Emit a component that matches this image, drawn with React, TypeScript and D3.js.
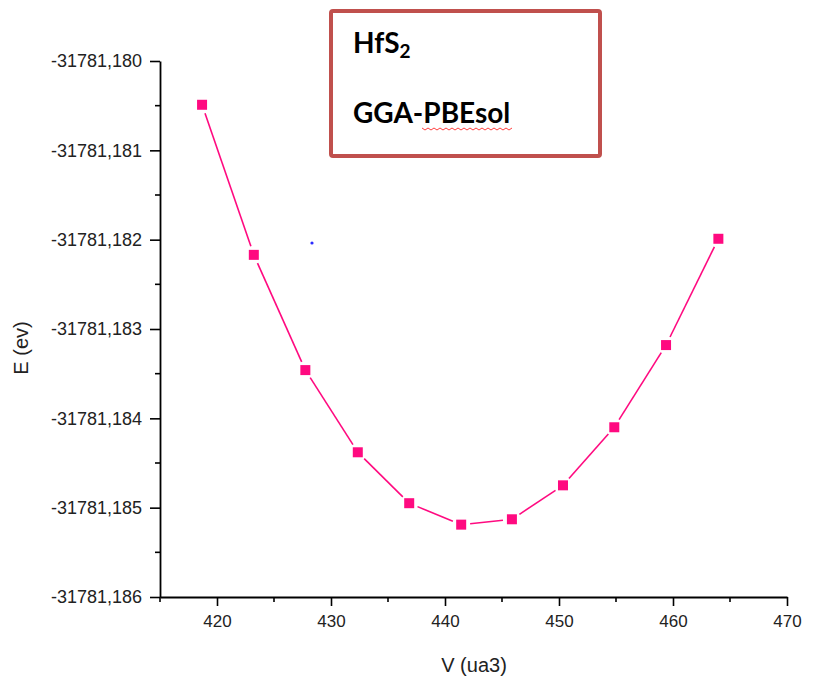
import React, { useEffect, useRef } from 'react';
import * as d3 from 'd3';

// volume (ua3) and total energy (eV)
const volumes = [418.69, 423.23, 427.75, 432.35, 436.86, 441.42, 445.87, 450.35, 454.85, 459.39, 463.98];
const energies = [
  -31781.18049, -31781.18217, -31781.18346, -31781.18438, -31781.18495, -31781.18519,
  -31781.18513, -31781.18475, -31781.18410, -31781.18318, -31781.18199,
];
const xTicks = [420, 430, 440, 450, 460, 470];
const xMinorTicks = [415, 425, 435, 445, 455, 465];
const yTicks = [-31781.180, -31781.181, -31781.182, -31781.183, -31781.184, -31781.185, -31781.186];
const yMinorTicks = [-31781.1805, -31781.1815, -31781.1825, -31781.1835, -31781.1845, -31781.1855];
const legendLines = ['HfS', 'GGA-PBEsol'];

const W = 821;
const H = 680;

const App = () => {
  const svgRef = useRef<SVGSVGElement | null>(null);

  useEffect(() => {
    const svg = d3.select(svgRef.current);
    svg.selectAll('*').remove();

    const x = d3.scaleLinear().domain([415, 470]).range([160, 787]);
    const y = d3.scaleLinear().domain([-31781.186, -31781.180]).range([597, 61]);
    const pink = '#ff0a80';
    const font = '"Liberation Sans", Arial, sans-serif';

    svg.append('rect').attr('width', W).attr('height', H).attr('fill', '#fff');

    // x axis
    const gx = svg.append('g').attr('transform', `translate(0,${y(-31781.186)})`);
    gx.call(
      d3.axisBottom(x).tickValues(xTicks).tickSize(9).tickSizeOuter(0).tickPadding(9)
        .tickFormat((d) => String(d))
    );
    gx.selectAll('.tick line').attr('stroke-width', 1.6);
    gx.selectAll('.tick text').attr('font-size', 17).attr('font-family', font).attr('fill', '#222');
    gx.select('.domain').attr('stroke-width', 1.8);
    gx.selectAll('.minor').data(xMinorTicks).join('line')
      .attr('x1', (d) => x(d)).attr('x2', (d) => x(d))
      .attr('y1', 0).attr('y2', 5).attr('stroke', '#000').attr('stroke-width', 1.6);

    // y axis
    const gy = svg.append('g').attr('transform', `translate(${x(415)},0)`);
    gy.call(
      d3.axisLeft(y).tickValues(yTicks).tickSize(10).tickSizeOuter(0).tickPadding(8)
        .tickFormat((d) => (d as number).toFixed(3).replace('.', ','))
    );
    gy.selectAll('.tick line').attr('stroke-width', 1.6);
    gy.selectAll('.tick text').attr('font-size', 18).attr('font-family', font).attr('fill', '#222');
    gy.select('.domain').attr('stroke-width', 1.8);
    gy.selectAll('.minor').data(yMinorTicks).join('line')
      .attr('y1', (d) => y(d)).attr('y2', (d) => y(d))
      .attr('x1', 0).attr('x2', -5).attr('stroke', '#000').attr('stroke-width', 1.6);

    // axis titles
    svg.append('text').attr('x', 474).attr('y', 672).attr('text-anchor', 'middle')
      .attr('font-size', 20).attr('font-family', font).attr('fill', '#222').text('V (ua3)');
    svg.append('text').attr('transform', 'translate(28,348) rotate(-90)').attr('text-anchor', 'middle')
      .attr('font-size', 20).attr('font-family', font).attr('fill', '#222').text('E (ev)');

    // connecting segments with small gaps near markers
    const pts = volumes.map((v, i) => [x(v), y(energies[i])] as [number, number]);
    const gap = 9;
    svg.append('g').selectAll('line').data(d3.pairs(pts)).join('line')
      .each(function ([a, b]) {
        const dx = b[0] - a[0];
        const dy = b[1] - a[1];
        const len = Math.hypot(dx, dy);
        const ux = dx / len;
        const uy = dy / len;
        d3.select(this)
          .attr('x1', a[0] + ux * gap).attr('y1', a[1] + uy * gap)
          .attr('x2', b[0] - ux * gap).attr('y2', b[1] - uy * gap);
      })
      .attr('stroke', pink).attr('stroke-width', 1.6);

    svg.append('g').selectAll('rect').data(pts).join('rect')
      .attr('x', (d) => d[0] - 5).attr('y', (d) => d[1] - 5)
      .attr('width', 10).attr('height', 10).attr('fill', pink);

    // stray blue point
    svg.append('circle').attr('cx', 312).attr('cy', 243).attr('r', 1.6).attr('fill', '#2b2bff');

    // legend box
    svg.append('rect').attr('x', 331).attr('y', 11).attr('width', 269).attr('height', 145)
      .attr('rx', 2).attr('fill', '#fff').attr('stroke', '#c0504d').attr('stroke-width', 4);
    const lfont = 'Lato, "Open Sans", sans-serif';
    const t1 = svg.append('text').attr('x', 353).attr('y', 53).attr('font-size', 28)
      .attr('font-weight', 'bold').attr('font-family', lfont).attr('fill', '#000');
    t1.append('tspan').text(legendLines[0]);
    t1.append('tspan').attr('font-size', 19).attr('dy', 5).text('2');
    svg.append('text').attr('x', 353).attr('y', 123).attr('font-size', 28)
      .attr('font-weight', 'bold').attr('font-family', lfont).attr('fill', '#000').text(legendLines[1]);
    // spell-check squiggle under "PBEsol"
    const sq = d3.range(0, 31).map((i) => [422 + i * 3, 128 + (i % 2 === 0 ? 0 : 2)] as [number, number]);
    svg.append('path').attr('d', d3.line()(sq)).attr('fill', 'none').attr('stroke', '#ff4040').attr('stroke-width', 1);
  }, []);

  return (
    <svg
      ref={svgRef}
      width={W}
      height={H}
      style={{ position: 'absolute', left: 0, top: 0, display: 'block' }}
    />
  );
};

export default App;
